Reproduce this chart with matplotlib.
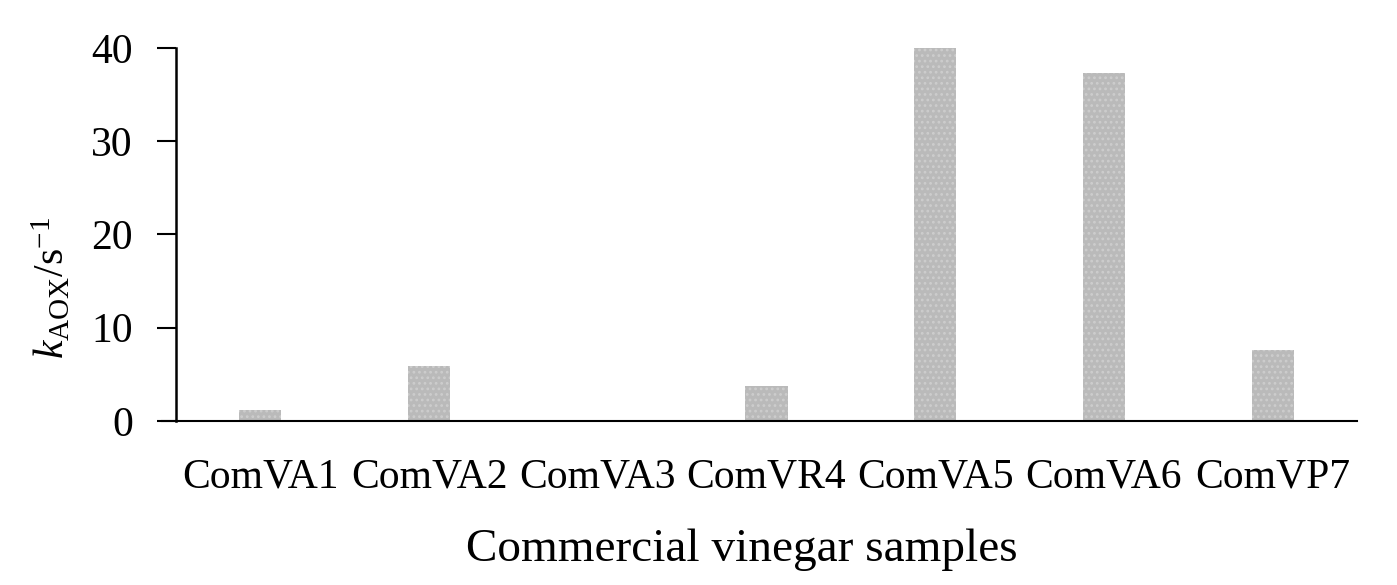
import matplotlib
matplotlib.use("Agg")
import matplotlib.pyplot as plt
from matplotlib.lines import Line2D

categories = ["ComVA1", "ComVA2", "ComVA3", "ComVR4", "ComVA5", "ComVA6", "ComVP7"]
k_aox = [1.15, 5.9, 0.0, 3.75, 40.0, 37.3, 7.6]
yticks = [0, 10, 20, 30, 40]

plt.rcParams['font.family'] = ['Liberation Serif', 'DejaVu Serif']
plt.rcParams['mathtext.fontset'] = 'custom'
plt.rcParams['mathtext.rm'] = 'Liberation Serif'
plt.rcParams['mathtext.it'] = 'Liberation Serif:italic'
plt.rcParams['hatch.linewidth'] = 1.2

W, H = 1397, 585
fig = plt.figure(figsize=(W/100, H/100), dpi=100)
fig.patch.set_facecolor('white')
ax = fig.add_axes([176/W, 1-421/H, (1357-176)/W, (421-48)/H])

x = list(range(len(categories)))
ax.bar(x, k_aox, width=0.25, color='#bababa', edgecolor='#cdcdcd', linewidth=0, hatch='...')

ax.set_xlim(-0.5, len(categories)-0.5)
ax.set_ylim(0, 40)
ax.set_yticks(yticks)
ax.set_xticks(x)
ax.set_xticklabels(categories)
for s in ['top', 'right']:
    ax.spines[s].set_visible(False)
ax.spines['left'].set_linewidth(1.8)
ax.spines['bottom'].set_linewidth(1.5)
ax.tick_params(axis='y', length=14, width=1.5, pad=17, labelsize=30, colors='black')
ax.tick_params(axis='x', length=0, pad=27, labelsize=30)

# x-axis line extending left of the y-axis
ax.add_line(Line2D([-14/168 - 0.5, -0.5], [0, 0], color='black', linewidth=1.5, clip_on=False))

fig.text(742/W, 1-550/H, "Commercial vinegar samples", fontsize=34, ha='center', va='center')
fig.text(52/W, 1-288/H, r"$k_{\mathrm{AOX}}$/s$^{\mathrm{-1}}$", fontsize=30, rotation=90, ha='center', va='center')

fig.savefig("out.png", dpi=100, facecolor='white')
